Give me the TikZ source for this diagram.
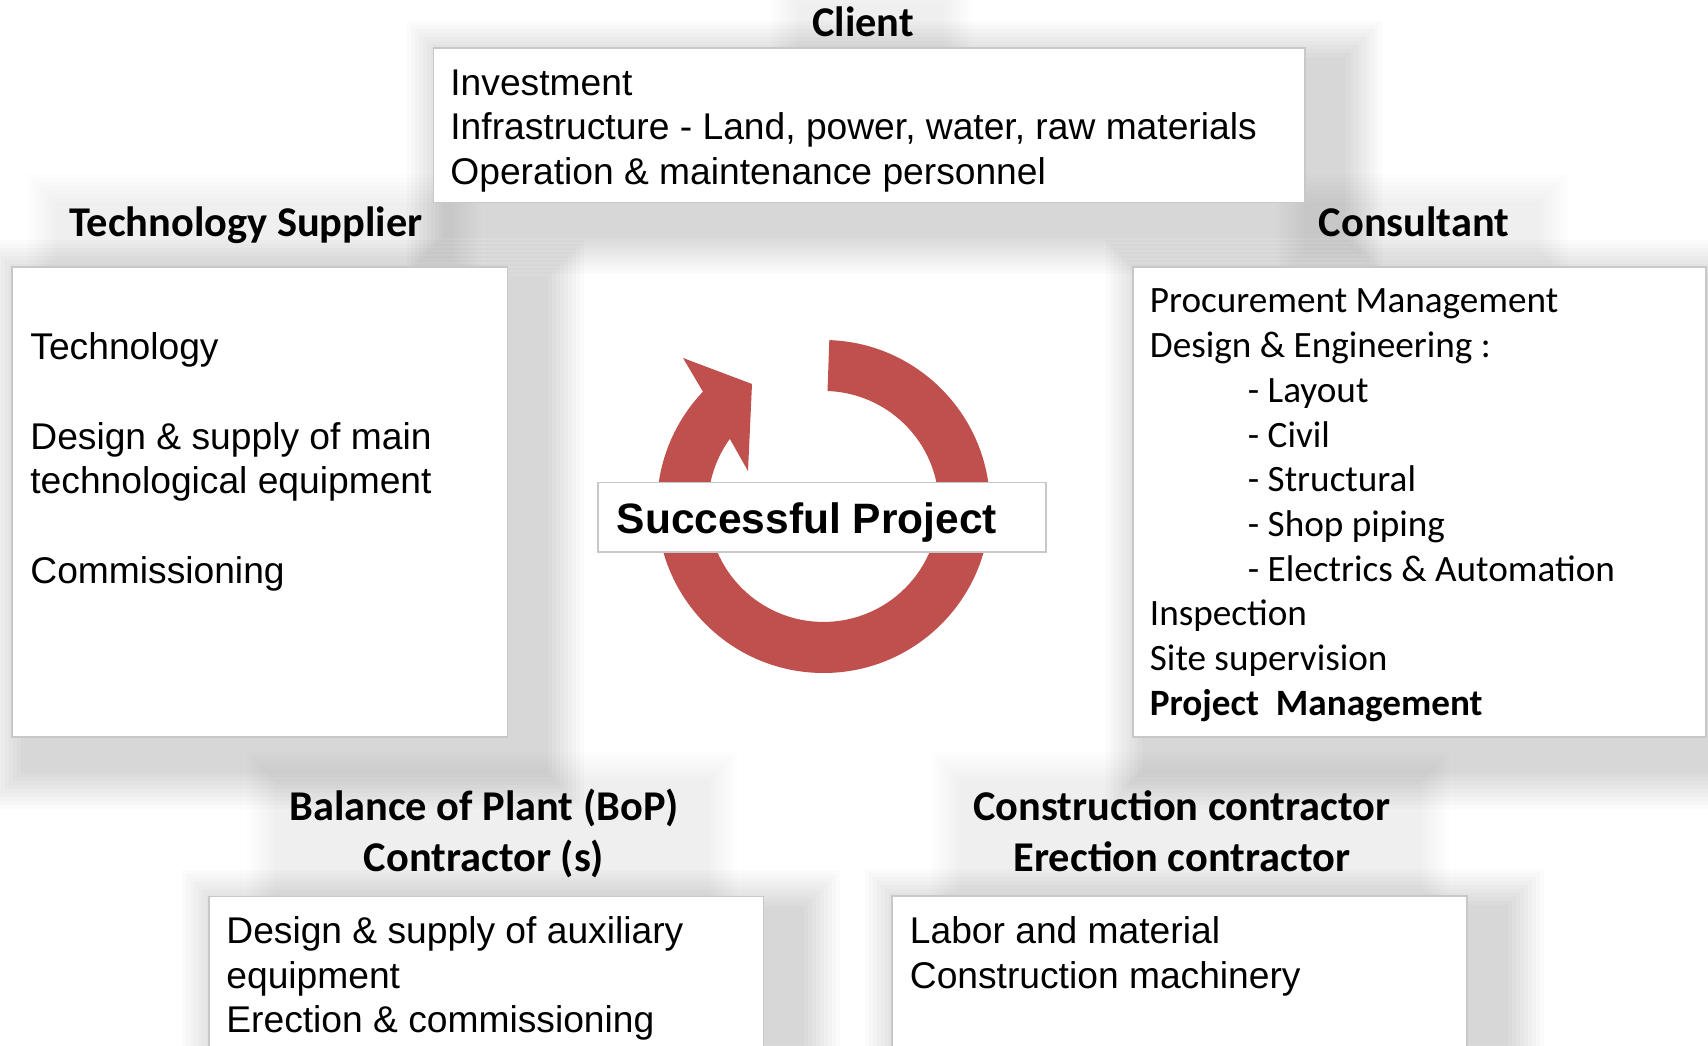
\documentclass[tikz,border=0pt]{standalone}
\usepackage{fontspec}
\setmainfont{Liberation Sans}
\newfontfamily\calibri{Carlito}
\usetikzlibrary{positioning,fit}

\definecolor{ringred}{HTML}{C0504D}
\definecolor{boxline}{HTML}{C8C8C8}

\pgfdeclarelayer{shade}
\pgfsetlayers{shade,main}

% soft shadow behind a box node
\newcommand{\boxshade}[1]{%
  \foreach \e in {0,4,...,36}
    \fill[black,opacity=0.016] ([shift={(10-\e,-35-\e)}]#1.south west) rectangle ([shift={(40+\e,-10+\e)}]#1.north east);}
% fainter shadow behind a heading
\newcommand{\headshade}[1]{%
  \foreach \e in {0,4,...,28}
    \fill[black,opacity=0.006] ([shift={(-14-\e,-16-\e)}]#1.south west) rectangle ([shift={(30+\e,4+\e)}]#1.north east);}

\begin{document}
\begin{tikzpicture}[x=0.5pt,y=0.5pt,
    box/.style={draw=boxline,line width=0.75pt,fill=white,inner sep=0pt},
    head/.style={font={\calibri\bfseries\fontsize{21.2}{25.6}\selectfont},align=center,inner sep=0pt},
    body/.style={font={\fontsize{18.6}{22.35}\selectfont},align=left,anchor=north west,inner sep=0pt},
    cbody/.style={body,font={\calibri\fontsize{18.6}{22.35}\selectfont}}]
      %\draw[help lines,step=100] (0,0) grid (1708,1045);
      \useasboundingbox (0,0) rectangle (1708,1045);

      % ring with arrow head
      \fill[ringred] (823.5,538.5) ++(88:166.5) arc[start angle=88,end angle=-223.6,radius=166.5]
        -- (683,687) -- (752,661) -- (748,574) -- (729.8,606.1)
        arc[start angle=-215.8,end angle=88,radius=115.5] -- cycle;

      \node[box,fit={(598,493) (1046,562.5)}] (success) {};
      \node[font={\bfseries\fontsize{21.25}{25}\selectfont},anchor=base west,inner sep=0pt] (successtext) at (616.3,511.7) {Successful Project};

      % boxes
      \node[box,fit={(433.5,842.4) (1305,997)}] (client) {};
      \node[box,fit={(12,308) (507.6,778)}] (tech) {};
      \node[box,fit={(1133,308) (1706,778)}] (consult) {};
      \node[box,fit={(209,-40) (763.6,148.5)}] (bop) {};
      \node[box,fit={(892,-40) (1467,149)}] (constr) {};

      % headings
      \node[head,anchor=base] (clienthead) at (863,1008) {Client};
      \node[head,anchor=base] (techhead) at (246,808.6) {Technology Supplier};
      \node[head,anchor=base] (consulthead) at (1414,808.6) {Consultant};
      \node[head,anchor=north] (bophead) at (484,260.8) {\strut Balance of Plant (BoP)\\Contractor (s)};
      \node[head,anchor=north] (constrhead) at (1182,260.8) {\strut Construction contractor\\Erection contractor};

      % box texts
      \node[body] (clienttext) at (450,981.5) {\strut Investment\\Infrastructure - Land, power, water, raw materials\\Operation \& maintenance personnel};
      \node[body] (techtext) at (30,716.8) {\strut Technology\\[22.35pt]Design \& supply of main\\technological equipment\\[22.35pt]Commissioning};
      \node[cbody] (consulttext) at (1149.5,763.7) {\strut Procurement Management\\Design \& Engineering :\\
        \hspace*{49pt}- Layout\\\hspace*{49pt}- Civil\\\hspace*{49pt}- Structural\\
        \hspace*{49pt}- Shop piping\\\hspace*{49pt}- Electrics \& Automation\\
        Inspection\\Site supervision\\\textbf{Project\ \ Management}};
      \node[body] (boptext) at (226,133.3) {\strut Design \& supply of auxiliary\\equipment\\Erection \& commissioning};
      \node[body] (constrtext) at (909.5,133.3) {\strut Labor and material\\Construction machinery};

      \begin{pgfonlayer}{shade}
        \fill[white] (0,0) rectangle (1708,1045);
        \headshade{clienthead}
        \headshade{techhead}
        \headshade{consulthead}
        \headshade{bophead}
        \headshade{constrhead}
        \boxshade{client}
        \boxshade{tech}
        \boxshade{consult}
        \boxshade{bop}
        \boxshade{constr}
      \end{pgfonlayer}
    \end{tikzpicture}
\end{document}
